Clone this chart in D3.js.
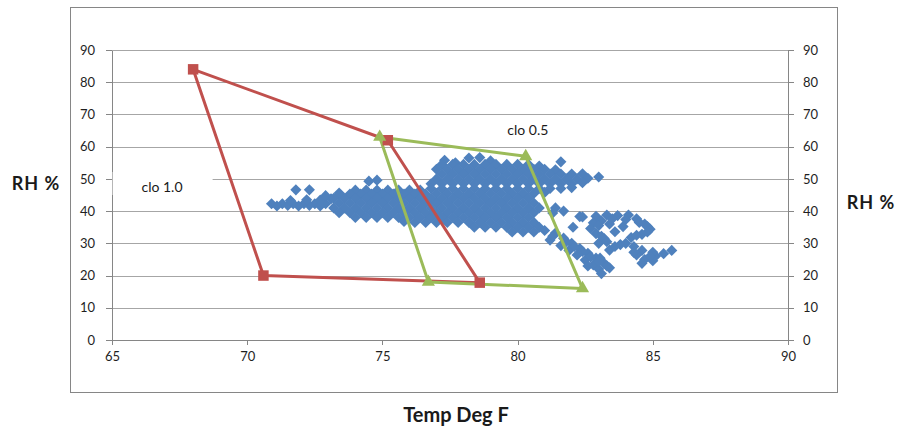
<!DOCTYPE html>
<html><head><meta charset="utf-8">
<script src="https://cdn.jsdelivr.net/npm/d3@7"></script>
<style>
html,body{margin:0;padding:0;background:#fff;}
svg{display:block;font-family:Lato,"Open Sans","Liberation Sans",sans-serif;}
</style></head>
<body>
<script>
// ---- data ----
const xTicks = [65, 70, 75, 80, 85, 90];
const yTicks = [0, 10, 20, 30, 40, 50, 60, 70, 80, 90];

// clo 1.0 comfort zone (closed polygon): [temp, RH]
const clo10 = [[68.0, 84.0], [75.2, 62.0], [78.6, 17.8], [70.6, 20.0], [68.0, 84.0]];
// clo 0.5 comfort zone
const clo05 = [[74.9, 63.0], [80.3, 57.0], [82.4, 16.0], [76.7, 18.0], [74.9, 63.0]];

// measured conditions [temp, RH]
const measured = [
  // left tail
  [70.9,42.3],[71.3,42.3],[71.7,42.3],[72.1,42.3],[72.5,42.3],[72.9,42.3],
  [71.1,41.6],[71.5,41.8],[71.9,41.6],[72.3,41.8],[72.7,41.6],
  [71.6,43.3],[72.2,43.5],[72.7,43.4],[73.1,43.8],
  [71.8,46.6],[72.3,46.6],[73.4,45.6],[72.9,44.8],
  // top cluster
  [77.3,55.8],[77.7,55.0],[78.2,56.5],[78.6,56.6],[79.0,55.6],[81.6,55.3],
  // row 54.5
  [77.2,54.5],[77.6,54.5],[78.0,54.5],[78.4,54.5],[78.8,54.5],[79.2,54.5],[79.6,54.5],[80.0,54.5],[80.4,54.5],[80.8,54.0],
  // row 53
  [77.0,53],[77.4,53],[77.8,53],[78.2,53],[78.6,53],[79.0,53],[79.4,53],[79.8,53],[80.2,53],[80.6,53],[81.0,53],[81.4,52.8],
  // row 51.5
  [77.2,51.5],[77.6,51.5],[78.0,51.5],[78.4,51.5],[78.8,51.5],[79.2,51.5],[79.6,51.5],[80.0,51.5],[80.4,51.5],[80.8,51.5],[81.2,51.5],[81.6,51.5],[82.0,51.5],[82.4,51.6],
  // row 50
  [74.5,49.3],[74.8,49.6],
  [77.0,50],[77.4,50],[77.8,50],[78.2,50],[78.6,50],[79.0,50],[79.4,50],[79.8,50],[80.2,50],[80.6,50],[81.0,50],[81.4,50],[81.8,50],[82.2,50],[82.6,50.2],[83.0,50.6],
  // row 48.5
  [76.8,48.5],[77.2,48.5],[77.6,48.5],[78.0,48.5],[78.4,48.5],[78.8,48.5],[79.2,48.5],[79.6,48.5],[80.0,48.5],[80.4,48.5],[80.8,48.5],[81.2,48.5],[81.6,48.5],[82.0,48.5],[82.4,48.8],
  // row 47
  [74.0,46.5],[74.4,46.5],[74.8,46.5],[75.2,46.5],[75.6,46.5],[76.0,46.5],[76.4,46.5],
  [76.8,47],[77.2,47],[77.6,47],[78.0,47],[78.4,47],[78.8,47],[79.2,47],[79.6,47],[80.0,47],[80.4,47],[80.8,47],[81.2,47],[81.6,47],[82.0,47.3],
  // row 45.5
  [73.4,45],[73.8,45.3],[74.2,45.3],[74.6,45.3],[75.0,45.3],[75.4,45.3],[75.8,45.3],[76.2,45.3],[76.6,45.3],[77.0,45.5],[77.4,45.5],[77.8,45.5],[78.2,45.5],[78.6,45.5],[79.0,45.5],[79.4,45.5],[79.8,45.5],[80.2,45.5],[80.6,45.5],[81.0,45.8],
  // row 44
  [73.2,44],[73.6,44],[74.0,44],[74.4,44],[74.8,44],[75.2,44],[75.6,44],[76.0,44],[76.4,44],[76.8,44],[77.2,44],[77.6,44],[78.0,44],[78.4,44],[78.8,44],[79.2,44],[79.6,44],[80.0,44],[80.4,44],
  // row 42.5
  [73.4,42.5],[73.8,42.5],[74.2,42.5],[74.6,42.5],[75.0,42.5],[75.4,42.5],[75.8,42.5],[76.2,42.5],[76.6,42.5],[77.0,42.5],[77.4,42.5],[77.8,42.5],[78.2,42.5],[78.6,42.5],[79.0,42.5],[79.4,42.5],[79.8,42.5],[80.2,42.5],[80.6,42.5],
  // row 41
  [73.2,41],[73.6,41],[74.0,41],[74.4,41],[74.8,41],[75.2,41],[75.6,41],[76.0,41],[76.4,41],[76.8,41],[77.2,41],[77.6,41],[78.0,41],[78.4,41],[78.8,41],[79.2,41],[79.6,41],[80.0,41],[80.4,41],[80.8,41],
  [81.4,41.0],[81.7,40.0],
  // row 39.5
  [73.4,39.5],[73.8,39.5],[74.2,39.5],[74.6,39.5],[75.0,39.5],[75.4,39.5],[75.8,39.5],[76.2,39.5],[76.6,39.5],[77.0,39.5],[77.4,39.5],[77.8,39.5],[78.2,39.5],[78.6,39.5],[79.0,39.5],[79.4,39.5],[79.8,39.5],[80.2,39.5],[80.6,39.5],
  [81.3,39.4],
  // row 38
  [74.0,38],[74.4,38],[74.8,38],[75.2,38],[75.6,38],[76.0,38],[76.4,38],[76.8,38],[77.2,38],[77.6,38],[78.0,38],[78.4,38],[78.8,38],[79.2,38],[79.6,38],[80.0,38],[80.4,38],
  [82.3,38.3],[82.4,38.2],
  // row 36.5
  [75.8,36.8],[76.2,36.5],[76.6,36.5],[77.0,36.5],[77.4,36.5],[77.8,36.5],[78.2,36.5],[78.6,36.5],[79.0,36.5],[79.4,36.5],[79.8,36.5],[80.2,36.5],[80.6,36.5],
  // row 35
  [78.4,35],[78.8,35],[79.2,35],[79.6,35],[80.0,35],[80.4,35],[80.8,35],[82.05,35.0],
  // row 33.5
  [79.8,33.5],[80.2,33.5],[80.6,33.5],
  // descending arm
  [81.0,34.0],[81.4,33.2],[81.2,31.0],[81.7,31.6],[81.6,29.3],[82.0,30.0],[81.9,27.8],[82.3,28.4],[82.2,26.4],[82.6,26.9],[82.5,24.8],[82.9,25.4],[82.8,23.3],[83.2,23.8],[83.0,22.0],[83.4,22.4],[83.1,20.6],[83.05,25.4],[83.4,27.9],
  [81.3,32.2],[81.8,30.5],[82.1,29.0],[82.4,27.5],[82.7,25.8],[83.0,24.3],[83.3,23.0],[82.6,23.0],
  // ring
  [82.9,38.4],[83.3,38.8],[83.7,38.6],[84.1,38.8],[84.4,37.6],
  [84.7,36.0],[84.9,34.4],[84.6,32.8],[84.2,31.8],
  [82.8,36.4],[82.7,34.6],[82.9,33.0],[83.2,31.5],[83.0,30.0],
  [83.4,36.0],[83.9,35.2],[83.6,33.6],
  [83.1,37.0],[83.5,37.6],[84.0,37.4],[84.5,36.5],[84.8,35.2],[84.8,33.5],[84.4,32.5],[83.0,35.5],[83.1,32.2],[83.3,30.5],[83.8,29.6],
  [83.6,29.0],[84.0,30.0],[84.3,29.0],
  // right tail
  [84.6,27.8],[84.4,26.4],[84.7,25.0],[84.6,23.8],[85.0,24.6],[85.1,26.0],[85.4,26.8],[85.7,27.8],[85.0,27.2],[84.9,26.0],[84.3,27.2]
];

const labels = [
  {text: "clo 1.0", t: 66.85, rh: 45.9},
  {text: "clo 0.5", t: 80.38, rh: 63.6}
];

// ---- layout ----
const W = 901, H = 429;
const svg = d3.select("body").append("svg").attr("width", W).attr("height", H);
svg.append("rect").attr("width", W).attr("height", H).attr("fill", "#fff");

const x = d3.scaleLinear().domain([65, 90]).range([112, 788]);
const y = d3.scaleLinear().domain([0, 90]).range([340, 50]);

const axisCol = "#868686", gridCol = "#a6a6a6", textCol = "#1f1f1f";

// outer chart border
svg.append("rect").attr("x", 70.5).attr("y", 7.5).attr("width", 767).attr("height", 385)
  .attr("fill", "none").attr("stroke", axisCol).attr("stroke-width", 1);

// gridlines
svg.append("g").selectAll("line").data(yTicks.filter(d => d > 0)).join("line")
  .attr("x1", x(65)).attr("x2", x(90))
  .attr("y1", d => Math.round(y(d)) + 0.5).attr("y2", d => Math.round(y(d)) + 0.5)
  .attr("stroke", gridCol).attr("stroke-width", 1);

function styleAxis(g) {
  g.selectAll("path,line").attr("stroke", axisCol).attr("shape-rendering", "crispEdges");
  g.selectAll("text").attr("fill", textCol).attr("font-size", 13).attr("font-family", "Lato, 'Open Sans', sans-serif");
}

svg.append("g").attr("transform", "translate(112,0)")
  .call(d3.axisLeft(y).tickValues(yTicks).tickSize(6).tickSizeOuter(0).tickPadding(11))
  .call(styleAxis);
svg.append("g").attr("transform", "translate(788,0)")
  .call(d3.axisRight(y).tickValues(yTicks).tickSize(6).tickSizeOuter(0).tickPadding(9))
  .call(styleAxis);
svg.append("g").attr("transform", "translate(0,340)")
  .call(d3.axisBottom(x).tickValues(xTicks).tickSize(5).tickSizeOuter(0).tickPadding(7))
  .call(styleAxis);

// axis titles (with white background like Excel text boxes)
svg.append("rect").attr("x", 6).attr("y", 169).attr("width", 62).attr("height", 30).attr("fill", "#fff");
svg.append("text").attr("x", 36).attr("y", 190).attr("text-anchor", "middle")
  .attr("font-size", 18).attr("font-weight", "bold").attr("letter-spacing", 1).attr("fill", "#1a1a1a").text("RH %");
svg.append("text").attr("x", 871).attr("y", 209).attr("text-anchor", "middle")
  .attr("font-size", 18).attr("font-weight", "bold").attr("letter-spacing", 1).attr("fill", "#1a1a1a").text("RH %");
svg.append("text").attr("x", 456).attr("y", 422).attr("text-anchor", "middle")
  .attr("font-size", 20).attr("font-weight", "bold").attr("fill", "#1a1a1a").text("Temp Deg F");

// clo labels
svg.append("rect").attr("x", 112.6).attr("y", 172).attr("width", 100).attr("height", 23).attr("fill", "#fff");
svg.append("g").selectAll("text").data(labels).join("text")
  .attr("x", d => x(d.t)).attr("y", d => y(d.rh)).attr("text-anchor", "middle")
  .attr("font-size", 14).attr("fill", "#1a1a1a").text(d => d.text);

// measured scatter (diamonds)
const diamond = d3.symbol().type(d3.symbolSquare).size(62);
svg.append("g").selectAll("path").data(measured).join("path")
  .attr("d", diamond)
  .attr("transform", d => `translate(${x(d[0])},${y(d[1])}) rotate(45)`)
  .attr("fill", "#4f81bd");

// comfort zone outlines
const line = d3.line().x(d => x(d[0])).y(d => y(d[1]));
svg.append("path").datum(clo10).attr("d", line).attr("fill", "none")
  .attr("stroke", "#c0504d").attr("stroke-width", 3).attr("stroke-linejoin", "round");
svg.append("path").datum(clo05).attr("d", line).attr("fill", "none")
  .attr("stroke", "#9bbb59").attr("stroke-width", 3).attr("stroke-linejoin", "round");

svg.append("g").selectAll("path").data(clo10.slice(0, 4)).join("path")
  .attr("d", d3.symbol().type(d3.symbolSquare).size(110))
  .attr("transform", d => `translate(${x(d[0])},${y(d[1])})`)
  .attr("fill", "#c0504d");
svg.append("g").selectAll("path").data(clo05.slice(0, 4)).join("path")
  .attr("d", d3.symbol().type(d3.symbolTriangle).size(75))
  .attr("transform", d => `translate(${x(d[0])},${y(d[1])})`)
  .attr("fill", "#9bbb59");
</script>
</body></html>
